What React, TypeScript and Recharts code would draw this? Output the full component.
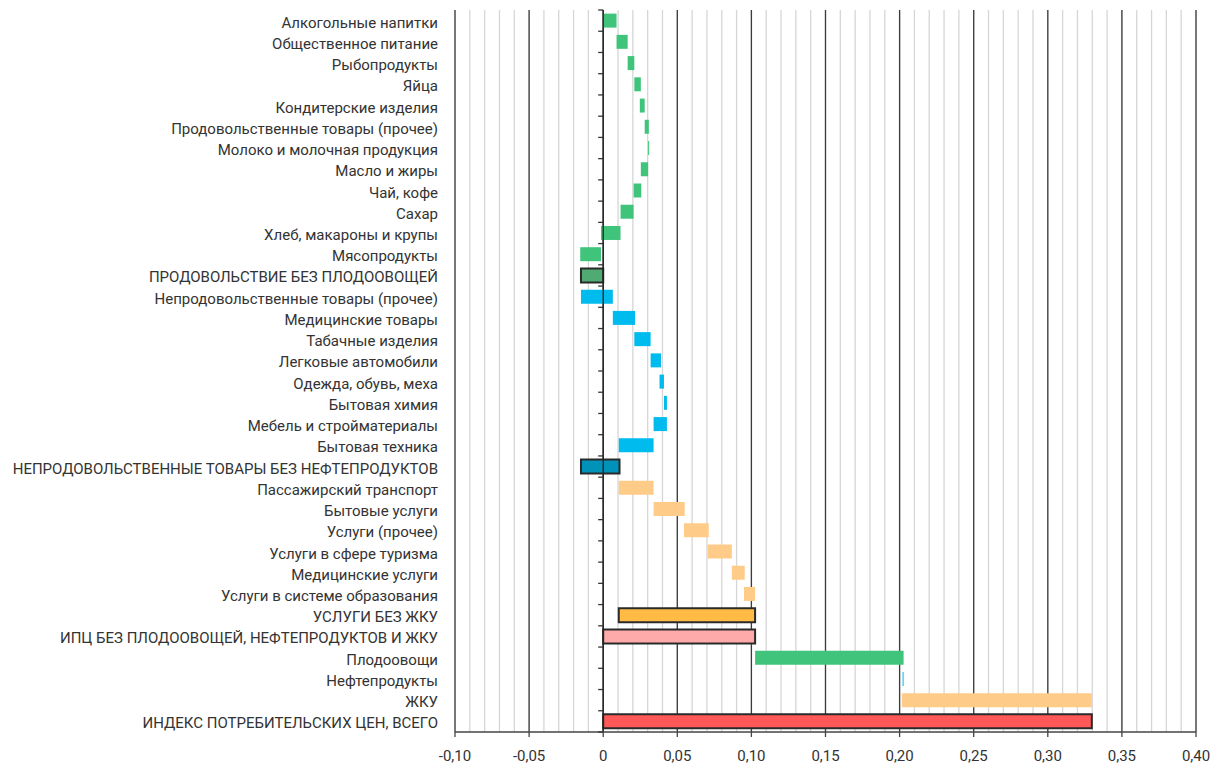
import { BarChart, Bar, XAxis, YAxis, CartesianGrid, ReferenceLine, Cell } from 'recharts';

const labels = [
  'Алкогольные напитки',
  'Общественное питание',
  'Рыбопродукты',
  'Яйца',
  'Кондитерские изделия',
  'Продовольственные товары (прочее)',
  'Молоко и молочная продукция',
  'Масло и жиры',
  'Чай, кофе',
  'Сахар',
  'Хлеб, макароны и крупы',
  'Мясопродукты',
  'ПРОДОВОЛЬСТВИЕ БЕЗ ПЛОДООВОЩЕЙ',
  'Непродовольственные товары (прочее)',
  'Медицинские товары',
  'Табачные изделия',
  'Легковые автомобили',
  'Одежда, обувь, меха',
  'Бытовая химия',
  'Мебель и стройматериалы',
  'Бытовая техника',
  'НЕПРОДОВОЛЬСТВЕННЫЕ ТОВАРЫ БЕЗ НЕФТЕПРОДУКТОВ',
  'Пассажирский транспорт',
  'Бытовые услуги',
  'Услуги (прочее)',
  'Услуги в сфере туризма',
  'Медицинские услуги',
  'Услуги в системе образования',
  'УСЛУГИ БЕЗ ЖКУ',
  'ИПЦ БЕЗ ПЛОДООВОЩЕЙ, НЕФТЕПРОДУКТОВ И ЖКУ',
  'Плодоовощи',
  'Нефтепродукты',
  'ЖКУ',
  'ИНДЕКС ПОТРЕБИТЕЛЬСКИХ ЦЕН, ВСЕГО',
];

// waterfall: where each bar starts and ends
const barFrom = [
  0, 0.009, 0.0165, 0.021, 0.0247, 0.028, 0.0303, 0.0303, 0.0257, 0.0205, 0.0117, -0.0015,
  0,
  -0.015, 0.0065, 0.021, 0.032, 0.038, 0.041, 0.043, 0.034,
  -0.015,
  0.0105, 0.034, 0.0545, 0.0705, 0.0868, 0.095,
  0.0105,
  0,
  0.1025, 0.2027, 0.2015,
  0,
];
const barTo = [
  0.009, 0.0165, 0.021, 0.0254, 0.028, 0.0308, 0.031, 0.0254, 0.0205, 0.0117, -0.0015, -0.0155,
  -0.015,
  0.0065, 0.0215, 0.032, 0.039, 0.041, 0.043, 0.034, 0.0105,
  0.011,
  0.034, 0.055, 0.0712, 0.0868, 0.0955, 0.1025,
  0.1025,
  0.1025,
  0.2027, 0.202, 0.3297,
  0.3297,
];
const groups = [
  'food', 'food', 'food', 'food', 'food', 'food', 'food', 'food', 'food', 'food', 'food', 'food',
  'foodTotal',
  'goods', 'goods', 'goods', 'goods', 'goods', 'goods', 'goods', 'goods',
  'goodsTotal',
  'serv', 'serv', 'serv', 'serv', 'serv', 'serv',
  'servTotal',
  'core',
  'food', 'goods', 'serv',
  'total',
];

const majorTicks = [-0.1, -0.05, 0, 0.05, 0.1, 0.15, 0.2, 0.25, 0.3, 0.35, 0.4];
const minorTicks: number[] = [];
for (let i = -10; i <= 40; i++) minorTicks.push(i / 100);

const fills: Record<string, string> = {
  food: '#40C47B',
  foodTotal: '#4FAA74',
  goods: '#00BBEE',
  goodsTotal: '#0092B8',
  serv: '#FFCB88',
  servTotal: '#FFBB44',
  core: '#FFAAAA',
  total: '#FF5858',
};
const outlined = ['foodTotal', 'goodsTotal', 'servTotal', 'core', 'total'];

const data = labels.map((name, i) => ({
  name,
  range: [Math.min(barFrom[i], barTo[i]), Math.max(barFrom[i], barTo[i])],
  group: groups[i],
}));

const W = 1212;
const H = 758;
const MARGIN = { top: 2, right: 24, bottom: 0, left: 0 };
const Y_W = 447;
const X_H = 34;
const PLOT_LEFT = MARGIN.left + Y_W;
const PLOT_W = W - PLOT_LEFT - MARGIN.right;
const PLOT_H = H - MARGIN.top - MARGIN.bottom - X_H;
const BAND = PLOT_H / labels.length;
const ZERO_X = PLOT_LEFT + (PLOT_W * (0 - -0.1)) / 0.5;

const FONT = 'Roboto, "Noto Sans", sans-serif';

const fmt = (v: number) => (v === 0 ? '0' : v.toFixed(2).replace('.', ','));

const CategoryTick = ({ y, payload, index }: any) => (
  <g>
    <text
      x={PLOT_LEFT - 17}
      y={y + 2}
      textAnchor="end"
      dominantBaseline="central"
      fontSize={15}
      fill="#333"
      fontFamily={FONT}
    >
      {payload.value}
    </text>
    <line x1={ZERO_X - 5} x2={ZERO_X} y1={y - BAND / 2} y2={y - BAND / 2} stroke="#333" strokeWidth={1.3} />
    {index === labels.length - 1 && (
      <line x1={ZERO_X - 5} x2={ZERO_X} y1={y + BAND / 2} y2={y + BAND / 2} stroke="#333" strokeWidth={1.3} />
    )}
  </g>
);

const ValueTick = ({ x, y, payload }: any) => (
  <text x={x} y={y + 22} textAnchor="middle" fontSize={15} fill="#333" fontFamily={FONT}>
    {fmt(payload.value)}
  </text>
);

export default function App() {
  return (
    <BarChart
      width={W}
      height={H}
      data={data}
      layout="vertical"
      margin={MARGIN}
      barCategoryGap="17%"
    >
      <CartesianGrid horizontal={false} verticalValues={minorTicks} stroke="#D6D6D6" strokeWidth={1.3} />
      <CartesianGrid horizontal={false} verticalValues={majorTicks} stroke="#3C3C3C" strokeWidth={1.3} />
      <XAxis
        type="number"
        domain={[-0.1, 0.4]}
        ticks={majorTicks}
        height={X_H}
        axisLine={{ stroke: '#444', strokeWidth: 1.3 }}
        tickLine={{ stroke: '#444', strokeWidth: 1.3 }}
        tickSize={5}
        tick={<ValueTick />}
        interval={0}
        allowDataOverflow
      />
      <YAxis
        type="category"
        dataKey="name"
        width={Y_W}
        axisLine={false}
        tickLine={false}
        interval={0}
        tick={<CategoryTick />}
      />
      <Bar dataKey="range" isAnimationActive={false}>
        {data.map((d, i) => (
          <Cell
            key={`bar-${i}`}
            fill={fills[d.group]}
            stroke={outlined.includes(d.group) ? '#2A2A2A' : 'none'}
            strokeWidth={outlined.includes(d.group) ? 2 : 0}
          />
        ))}
      </Bar>
      <ReferenceLine x={0} stroke="#222" strokeWidth={1.3} />
    </BarChart>
  );
}
